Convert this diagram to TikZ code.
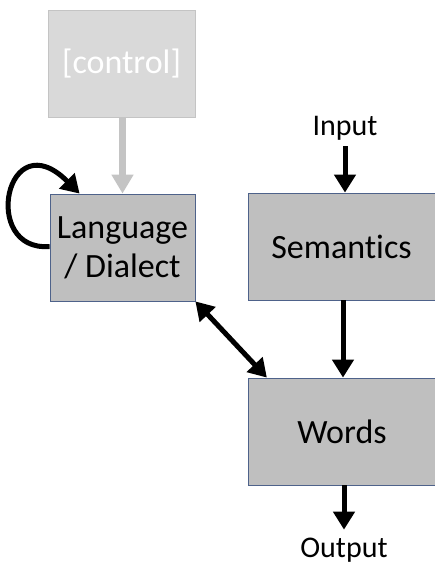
\documentclass[tikz,border=0pt]{standalone}
\usepackage{fontspec}
\setmainfont[Ligatures=NoCommon]{Carlito}
\usepackage{tikz}
\usetikzlibrary{arrows.meta,positioning,calc}
\definecolor{boxfill}{RGB}{191,191,191}
\definecolor{boxline}{RGB}{78,98,138}
\definecolor{ctrlfill}{RGB}{217,217,217}
\definecolor{ctrlline}{RGB}{196,196,196}

\begin{document}
\begin{tikzpicture}[x=1pt, y=-1pt,
    box/.style={draw=boxline, line width=0.8pt, fill=boxfill, minimum width=145pt, minimum height=107pt, align=center, font=\fontsize{34}{39}\selectfont, inner sep=0pt},
    ctrlbox/.style={box, draw=ctrlline, fill=ctrlfill, text=white},
    lbl/.style={font=\fontsize{30}{32}\selectfont, inner sep=0pt},
    flow/.style={line width=5pt, -{Triangle[width=21pt,length=18pt]}},
    both/.style={line width=5pt, {Triangle[width=21pt,length=18pt]}-{Triangle[width=21pt,length=18pt]}}]
    \useasboundingbox (0,0) rectangle (435,565);

    % Boxes
    \node[ctrlbox, minimum width=147pt] (ctrl) at (121.5,63.5) {[control]};
    \node[box] (lang) at (122.5,247.5) {Language\\/ Dialect};
    \node[box, minimum width=187pt] (sem) at (341.5,246.5) {Semantics};
    \node[box, minimum width=187pt] (words) at (342,431.5) {Words};

    % Input / Output
    \node[lbl] (in) at (345,128) {Input};
    \node[lbl] (out) at (344,550) {Output};

    % Arrows
    \draw[line width=7pt, ctrlline, -{Triangle[width=21pt,length=19pt]}] (ctrl.south -| lang.north) -- (lang.north);
    \draw[flow] ($(in.south)+(0,6)$) -- (in.south |- sem.north);
    \draw[flow] (sem.south -| 343,0) -- (words.north -| 343,0);
    \draw[flow] (words.south -| out.north) -- ($(out.north)+(0,-8)$);
    \draw[both] (lang.south east) -- ($(words.north west)!0.1!(words.north east)$);

    % Loop
    \draw[flow] ($(lang.west)+(0,-1)$) .. controls (-20,252) and (6,120) .. ($(lang.north west)+(30,0)$);
\end{tikzpicture}
\end{document}
